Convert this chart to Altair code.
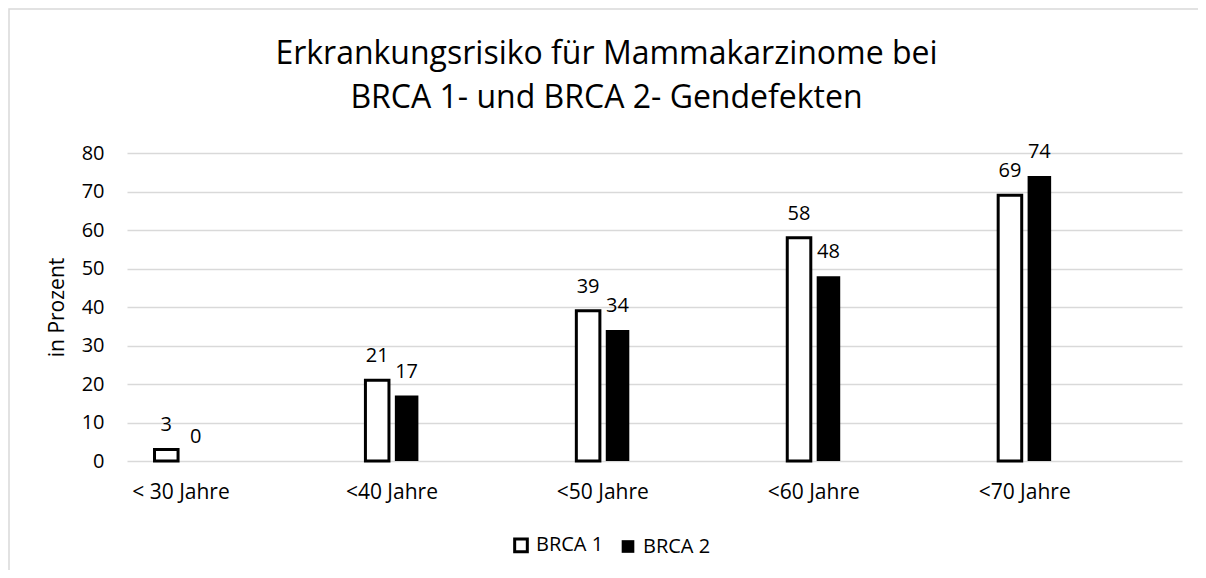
import altair as alt
import pandas as pd

categories = ["< 30 Jahre", "<40 Jahre", "<50 Jahre", "<60 Jahre", "<70 Jahre"]
series = ["BRCA 1", "BRCA 2"]
brca1 = [3, 21, 39, 58, 69]
brca2 = [0, 17, 34, 48, 74]
y_ticks = [0, 10, 20, 30, 40, 50, 60, 70, 80]
title_lines = ["Erkrankungsrisiko für Mammakarzinome bei", "BRCA 1- und BRCA 2- Gendefekten"]

rows = []
for c, a, b in zip(categories, brca1, brca2):
    rows.append({"Alter": c, "Serie": series[0], "Wert": a})
    rows.append({"Alter": c, "Serie": series[1], "Wert": b})
df = pd.DataFrame(rows)

FONT = "Open Sans"
W, H = 1055, 308
GRID = "#d9d9d9"

x = alt.X(
    "Alter:N", sort=categories,
    scale=alt.Scale(paddingInner=0.488, paddingOuter=0.245, align=0),
    axis=alt.Axis(title=None, labelAngle=0, ticks=False, tickSize=0, domain=False, grid=False,
                  labelFontSize=21, labelFont=FONT, labelColor="#000", labelPadding=20),
)
xo = alt.XOffset("Serie:N", sort=series, scale=alt.Scale(paddingInner=0.2, paddingOuter=0.935))
y = alt.Y(
    "Wert:Q", scale=alt.Scale(domain=[0, 80], nice=False),
    axis=alt.Axis(values=y_ticks, title="in Prozent", ticks=False, tickSize=0, domain=False,
                  grid=True, gridColor=GRID, gridWidth=1.3,
                  labelFontSize=20, labelFont=FONT, labelColor="#000", labelPadding=23,
                  titleFontSize=21, titleFont=FONT, titleFontWeight="normal", titleColor="#000",
                  titleX=-70, titleY=154, titleAngle=270, titleAlign="center", titleBaseline="middle"),
)

base = alt.Chart(df)

bars = base.mark_bar(stroke="black").encode(
    x=x, xOffset=xo, y=y,
    fill=alt.Fill("Serie:N", sort=series,
                  scale=alt.Scale(domain=series, range=["#ffffff", "#000000"]),
                  legend=alt.Legend(title=None, orient="none", legendX=384, legendY=382,
                                    direction="horizontal", symbolType="square", symbolSize=160,
                                    symbolStrokeWidth=3, symbolStrokeColor="#000",
                                    labelFontSize=20, labelFont=FONT, labelColor="#000",
                                    columnPadding=14, labelOffset=5, padding=0)),
    strokeWidth=alt.StrokeWidth("Serie:N", scale=alt.Scale(domain=series, range=[3, 0]), legend=None),
)

labels = base.mark_text(dy=-24, baseline="middle", fontSize=20, font=FONT, color="#000").encode(
    x=x, xOffset=xo, y=y, text=alt.Text("Wert:Q"),
)

frame = alt.Chart(pd.DataFrame({"f": [0]})).mark_rect(
    fillOpacity=0, stroke=GRID, strokeWidth=1.5
).encode(x=alt.value(-118), x2=alt.value(W + 40), y=alt.value(-144), y2=alt.value(H + 200))

chart = alt.layer(frame, bars, labels).properties(
    width=W, height=H,
    title=alt.TitleParams(text=title_lines, fontSize=32, font=FONT, fontWeight="normal",
                          color="#000", anchor="middle", dx=-48, dy=107, offset=0, lineHeight=44),
    autosize=alt.AutoSizeParams(type="none"),
    padding={"left": 119, "top": 145, "right": 16, "bottom": 109},
).configure_view(stroke=None)

chart.save("out.html", embed_options={"renderer": "svg", "actions": False})
